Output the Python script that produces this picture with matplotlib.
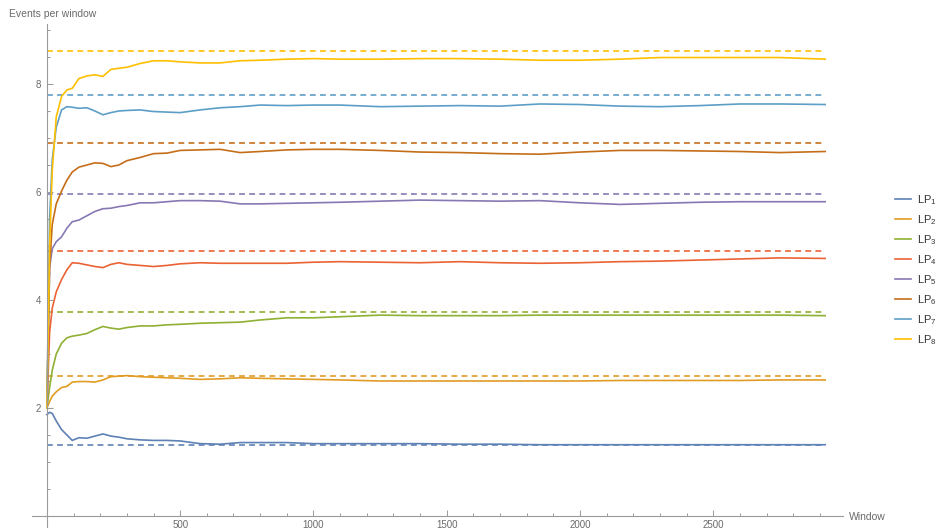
import matplotlib
matplotlib.use("Agg")
import matplotlib.pyplot as plt
from matplotlib.ticker import MultipleLocator, FixedLocator

plt.rcParams['font.family'] = ['Liberation Sans', 'DejaVu Sans']
plt.rcParams['mathtext.default'] = 'regular'

# Sampled windows shared by all series
windows = [0, 10, 20, 35, 55, 75, 95, 120, 150, 180, 210, 240, 270, 300, 350,
           400, 450, 500, 575, 650, 725, 800, 900, 1000, 1100, 1250, 1400,
           1550, 1700, 1850, 2000, 2150, 2300, 2450, 2600, 2750, 2920]

lp1 = [1.88, 1.92, 1.90, 1.76, 1.60, 1.50, 1.40, 1.45, 1.44, 1.48, 1.52, 1.48,
       1.46, 1.43, 1.41, 1.40, 1.40, 1.39, 1.34, 1.33, 1.36, 1.36, 1.36, 1.34,
       1.34, 1.34, 1.34, 1.33, 1.33, 1.32, 1.32, 1.32, 1.32, 1.32, 1.32, 1.32, 1.32]
lp2 = [2.00, 2.12, 2.22, 2.30, 2.38, 2.40, 2.48, 2.49, 2.49, 2.48, 2.52, 2.58,
       2.59, 2.60, 2.58, 2.57, 2.56, 2.55, 2.53, 2.54, 2.56, 2.55, 2.54, 2.53,
       2.52, 2.50, 2.50, 2.50, 2.50, 2.50, 2.50, 2.51, 2.51, 2.51, 2.51, 2.52, 2.52]
lp3 = [2.00, 2.38, 2.70, 3.00, 3.20, 3.30, 3.33, 3.35, 3.38, 3.45, 3.51, 3.48,
       3.46, 3.49, 3.52, 3.52, 3.54, 3.55, 3.57, 3.58, 3.59, 3.63, 3.67, 3.67,
       3.69, 3.72, 3.71, 3.71, 3.71, 3.72, 3.72, 3.72, 3.72, 3.72, 3.72, 3.72, 3.71]
lp4 = [2.00, 3.40, 3.85, 4.15, 4.38, 4.56, 4.69, 4.68, 4.65, 4.62, 4.60, 4.66,
       4.69, 4.66, 4.64, 4.62, 4.64, 4.67, 4.69, 4.68, 4.68, 4.68, 4.68, 4.70,
       4.71, 4.70, 4.69, 4.71, 4.69, 4.68, 4.69, 4.71, 4.72, 4.74, 4.76, 4.78, 4.77]
lp5 = [2.00, 4.60, 4.95, 5.08, 5.17, 5.33, 5.45, 5.48, 5.56, 5.64, 5.69, 5.70,
       5.73, 5.75, 5.80, 5.80, 5.82, 5.84, 5.84, 5.83, 5.78, 5.78, 5.79, 5.80,
       5.81, 5.83, 5.85, 5.84, 5.83, 5.84, 5.80, 5.77, 5.79, 5.81, 5.82, 5.82, 5.82]
lp6 = [2.00, 4.60, 5.40, 5.78, 6.02, 6.22, 6.37, 6.46, 6.50, 6.54, 6.53, 6.47,
       6.50, 6.58, 6.64, 6.71, 6.72, 6.77, 6.78, 6.79, 6.73, 6.75, 6.78, 6.79,
       6.79, 6.77, 6.74, 6.73, 6.71, 6.70, 6.74, 6.77, 6.77, 6.76, 6.75, 6.73, 6.75]
lp7 = [2.00, 5.50, 6.60, 7.20, 7.52, 7.58, 7.57, 7.55, 7.56, 7.50, 7.43, 7.47,
       7.50, 7.51, 7.52, 7.49, 7.48, 7.47, 7.52, 7.56, 7.58, 7.61, 7.60, 7.61,
       7.61, 7.58, 7.59, 7.60, 7.59, 7.63, 7.62, 7.59, 7.58, 7.60, 7.63, 7.63, 7.62]
lp8 = [2.00, 5.00, 6.40, 7.39, 7.77, 7.89, 7.92, 8.10, 8.15, 8.17, 8.14, 8.27,
       8.29, 8.31, 8.38, 8.43, 8.43, 8.41, 8.39, 8.39, 8.43, 8.44, 8.46, 8.47,
       8.46, 8.46, 8.47, 8.47, 8.46, 8.44, 8.44, 8.46, 8.49, 8.49, 8.49, 8.49, 8.46]

series = [lp1, lp2, lp3, lp4, lp5, lp6, lp7, lp8]
labels = ["LP$_{1}$", "LP$_{2}$", "LP$_{3}$", "LP$_{4}$",
          "LP$_{5}$", "LP$_{6}$", "LP$_{7}$", "LP$_{8}$"]
# Expected rate per line (dashed references)
targets = [1.315, 2.59, 3.78, 4.90, 5.96, 6.91, 7.80, 8.62]

colors = ["#5E81B5", "#E19C24", "#8FB032", "#EB6235",
          "#8778B3", "#C56E1A", "#5D9EC7", "#FFBF00"]

fig = plt.figure(figsize=(9.44, 5.28), dpi=100)
ax = fig.add_axes([32 / 944, 0.0, (843 - 32) / 944, (528 - 24) / 528])

handles = []
for vals, tgt, col, lab in zip(series, targets, colors, labels):
    ax.plot([windows[0], windows[-1]], [tgt, tgt], color=col, lw=1.4,
            dashes=(3, 2.2), alpha=0.85)
    h, = ax.plot(windows, vals, color=col, lw=1.2, label=lab)
    handles.append(h)

ax.set_xlim(-56, 2987)
ax.set_ylim(-0.222, 9.111)

axis_col = "#9a9a9a"
text_col = "#6a6a6a"
for side in ("top", "right"):
    ax.spines[side].set_visible(False)
ax.spines["left"].set_position(("data", 0))
ax.spines["bottom"].set_position(("data", 0))
for side in ("left", "bottom"):
    ax.spines[side].set_color(axis_col)
    ax.spines[side].set_linewidth(0.8)

ax.xaxis.set_major_locator(FixedLocator([500, 1000, 1500, 2000, 2500]))
ax.xaxis.set_minor_locator(MultipleLocator(100))
ax.yaxis.set_major_locator(FixedLocator([2, 4, 6, 8]))
ax.yaxis.set_minor_locator(MultipleLocator(0.5))
ax.tick_params(which="both", direction="in", color=axis_col, width=0.7,
               labelcolor=text_col, labelsize=7)
ax.tick_params(which="major", length=4)
ax.tick_params(which="minor", length=2.5)
ax.tick_params(axis="x", pad=3)
ax.tick_params(axis="y", pad=4)

fig.text(9 / 944, 1 - 14 / 528, "Events per window", color=text_col,
         fontsize=7.5, ha="left", va="center")
fig.text(849 / 944, 1 - 517 / 528, "Window", color=text_col,
         fontsize=7.5, ha="left", va="center")

leg = fig.legend(handles=handles, loc="upper left",
                 bbox_to_anchor=(885 / 944, 1 - 183 / 528),
                 frameon=False, fontsize=8, handlelength=1.4,
                 handletextpad=0.55, labelspacing=0.56)
for t in leg.get_texts():
    t.set_color("#333333")

fig.savefig("out.png", dpi=100)
